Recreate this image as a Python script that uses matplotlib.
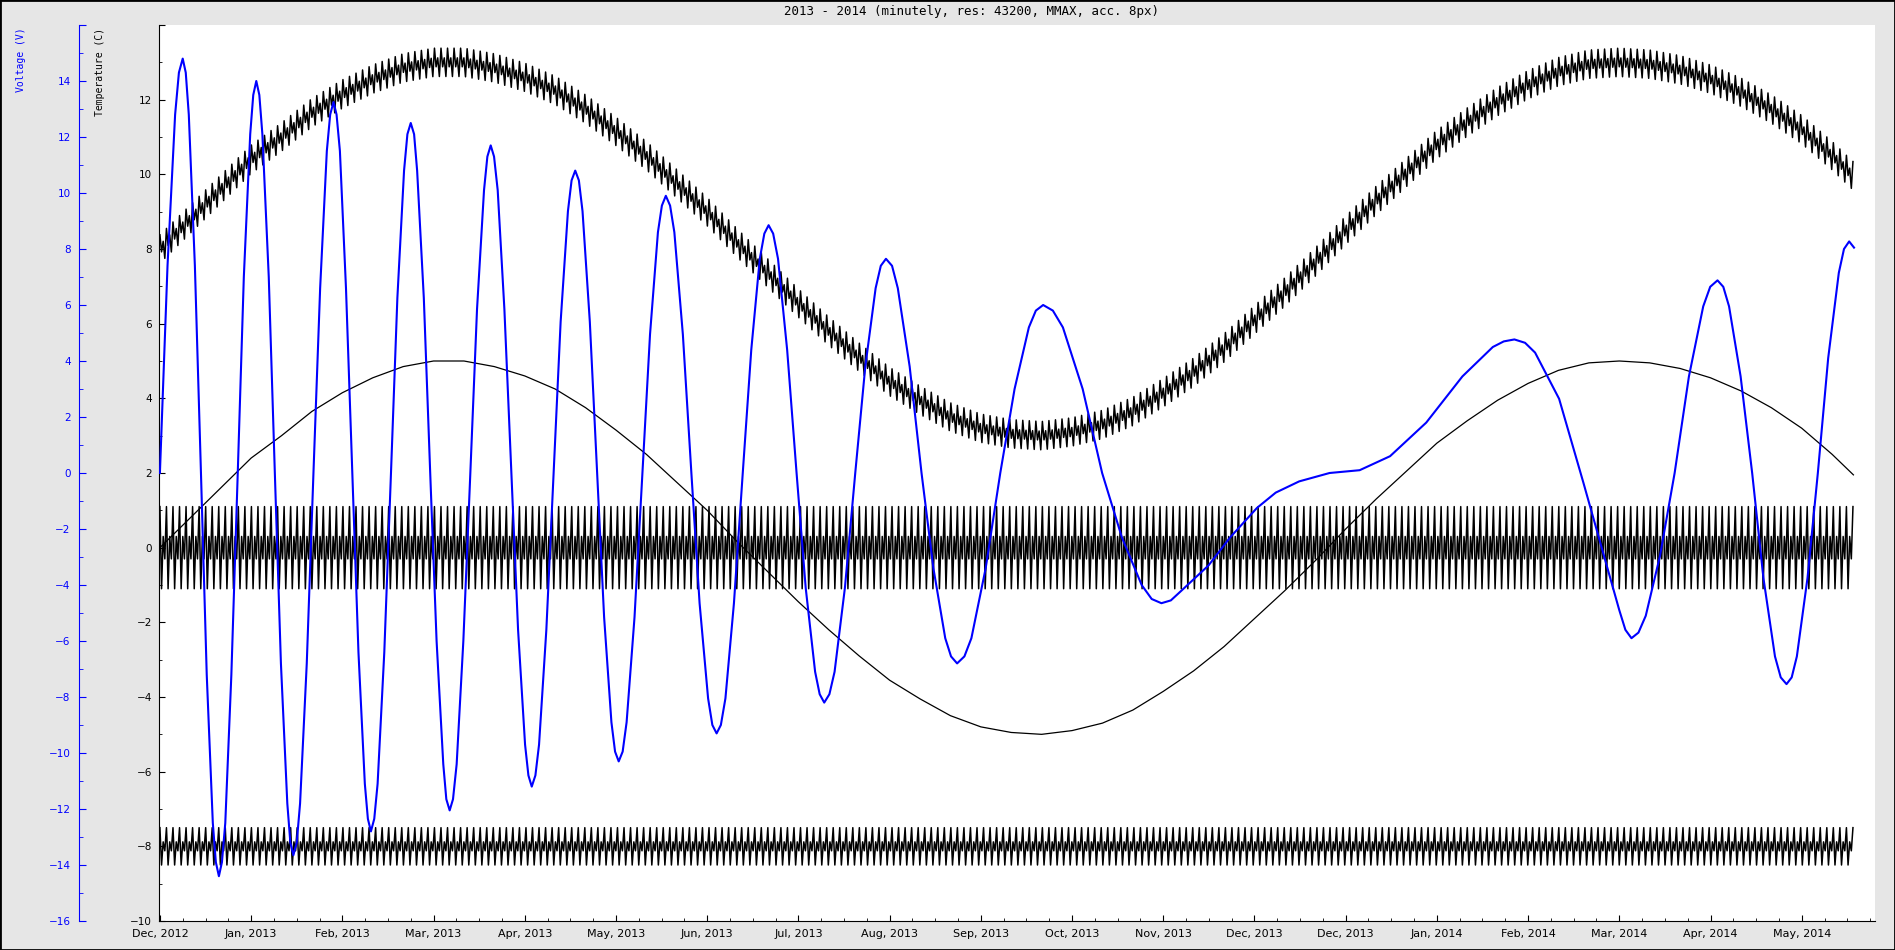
import numpy as np
import matplotlib
matplotlib.use("Agg")
import matplotlib.pyplot as plt
from matplotlib.patches import Rectangle
from matplotlib.ticker import MultipleLocator, FixedLocator, FuncFormatter

# x positions are days from the first label (Dec, 2012); labels every 30 days
tick_labels = ["Dec, 2012", "Jan, 2013", "Feb, 2013", "Mar, 2013", "Apr, 2013",
               "May, 2013", "Jun, 2013", "Jul, 2013", "Aug, 2013", "Sep, 2013",
               "Oct, 2013", "Nov, 2013", "Dec, 2013", "Dec, 2013", "Jan, 2014",
               "Feb, 2014", "Mar, 2014", "Apr, 2014", "May, 2014"]

# slow temperature wave (C), read every 10 days
wave_days = [0, 10, 20, 30, 40, 50, 60, 70, 80, 90, 100, 110, 120, 130, 140, 150,
             160, 170, 180, 190, 200, 210, 220, 230, 240, 250, 260, 270, 280, 290,
             300, 310, 320, 330, 340, 350, 360, 370, 380, 390, 400, 410, 420, 430,
             440, 450, 460, 470, 480, 490, 500, 510, 520, 530, 540, 550, 557]
temp_wave = [0.0, 0.8, 1.6, 2.4, 3.0, 3.65, 4.15, 4.55, 4.85, 5.0, 5.0, 4.85, 4.6,
             4.25, 3.75, 3.15, 2.5, 1.75, 1.0, 0.15, -0.65, -1.45, -2.2, -2.9, -3.55,
             -4.05, -4.5, -4.8, -4.95, -5.0, -4.9, -4.7, -4.35, -3.85, -3.3, -2.65,
             -1.9, -1.15, -0.35, 0.5, 1.3, 2.05, 2.8, 3.4, 3.95, 4.4, 4.75, 4.95, 5.0,
             4.95, 4.8, 4.55, 4.2, 3.75, 3.2, 2.5, 1.95]
# centre of the thick upper band (C), same days
band_top_mid = [8.0, 8.8, 9.6, 10.4, 11.0, 11.65, 12.15, 12.55, 12.85, 13.0, 13.0,
                12.85, 12.6, 12.25, 11.75, 11.15, 10.5, 9.75, 9.0, 8.15, 7.35, 6.55,
                5.8, 5.1, 4.45, 3.95, 3.5, 3.2, 3.05, 3.0, 3.1, 3.3, 3.65, 4.15, 4.7,
                5.35, 6.1, 6.85, 7.65, 8.5, 9.3, 10.05, 10.8, 11.4, 11.95, 12.4, 12.75,
                12.95, 13.0, 12.95, 12.8, 12.55, 12.2, 11.75, 11.2, 10.5, 9.95]
band_zero_mid = 0.0
band_low_mid = -8.0

# fast ripple, one cycle each, cycle length in days
ripple_period = 2.15
ripple_top = [0.38, -0.12, 0.12, -0.38]
ripple_zero = [1.1, -1.1, 0.3, -0.3]
ripple_low = [0.5, -0.5, 0.12, -0.12]

# voltage (V): (day, value) readings
volt_points = [
    (0, 0.0), (2.5, 7.4), (5.0, 12.8), (7.5, 14.8), (9.5, 12.8), (11.5, 7.4),
    (13.5, 0.0), (15.4, -7.2), (17.4, -12.5), (19.4, -14.4), (21.5, -12.5),
    (23.5, -7.2), (25.6, 0.0), (27.6, 7.0), (29.7, 12.1), (31.7, 14.0),
    (33.7, 12.1), (35.8, 7.0), (37.8, 0.0), (39.8, -6.8), (41.9, -11.8),
    (43.9, -13.65), (46.1, -11.8), (48.3, -6.8), (50.5, 0.0), (52.7, 6.6),
    (54.9, 11.5), (57.1, 13.25), (59.2, 11.5), (61.2, 6.6), (63.3, 0.0),
    (65.3, -6.4), (67.4, -11.1), (69.4, -12.8), (71.6, -11.1), (73.8, -6.4),
    (76.0, 0.0), (78.1, 6.25), (80.3, 10.8), (82.5, 12.5), (84.6, 10.8),
    (86.8, 6.25), (88.9, 0.0), (91.0, -6.0), (93.2, -10.4), (95.3, -12.05),
    (97.6, -10.4), (99.8, -6.0), (102.1, 0.0), (104.3, 5.85), (106.6, 10.1),
    (108.8, 11.7), (111.1, 10.1), (113.3, 5.85), (115.6, 0.0), (117.8, -5.6),
    (120.1, -9.7), (122.3, -11.2), (124.7, -9.7), (127.1, -5.6), (129.5, 0.0),
    (131.8, 5.4), (134.2, 9.35), (136.6, 10.8), (139.0, 9.35), (141.4, 5.4),
    (143.8, 0.0), (146.1, -5.15), (148.5, -8.9), (150.9, -10.3), (153.5, -8.9),
    (156.1, -5.15), (158.7, 0.0), (161.2, 4.95), (163.8, 8.6), (166.4, 9.9),
    (169.2, 8.6), (172.0, 4.95), (174.8, 0.0), (177.5, -4.65), (180.3, -8.05),
    (183.1, -9.3), (186.0, -8.05), (188.8, -4.65), (191.7, 0.0), (194.5, 4.4),
    (197.3, 7.65), (200.2, 8.85), (203.3, 7.65), (206.3, 4.4), (209.4, 0.0),
    (212.4, -4.1), (215.5, -7.1), (218.5, -8.2), (221.9, -7.1), (225.3, -4.1),
    (228.7, 0.0), (232.0, 3.8), (235.4, 6.6), (238.8, 7.65), (242.7, 6.6),
    (246.6, 3.8), (250.5, 0.0), (254.4, -3.4), (258.3, -5.9), (262.2, -6.8),
    (266.9, -5.9), (271.6, -3.4), (276.4, 0.0), (281.1, 3.0), (285.8, 5.2),
    (290.5, 6.0), (297.0, 5.2), (303.5, 3.0), (309.9, 0.0), (316.4, -2.3),
    (322.9, -4.0), (329.4, -4.65), (336.0, -4.2), (344.9, -3.3), (352.0, -2.3),
    (360.8, -1.25), (367.0, -0.7), (374.7, -0.3), (384.7, 0.0), (394.6, 0.1),
    (404.6, 0.6), (416.5, 1.8), (428.4, 3.45), (438.4, 4.5), (445.5, 4.77),
    (452.3, 4.3), (460.2, 2.65), (468.2, -0.35), (476.1, -3.4), (480.0, -4.9),
    (484.0, -5.9), (488.7, -5.1), (493.4, -2.95), (498.2, 0.0), (502.9, 3.45),
    (507.6, 5.95), (512.3, 6.88), (516.1, 5.95), (519.9, 3.45), (523.7, 0.0),
    (527.4, -3.75), (531.2, -6.55), (535.0, -7.54), (538.4, -6.55),
    (541.9, -3.75), (545.3, 0.0), (548.7, 4.1), (552.2, 7.15), (555.6, 8.27),
    (557.2, 8.05),
]
# extra readings just either side of each turning point
volt_shoulders = [
    (6.25, 14.3), (8.5, 14.3), (18.4, -13.9), (20.4, -13.9), (30.7, 13.5),
    (32.7, 13.5), (42.9, -13.2), (45.0, -13.2), (56.0, 12.8), (58.1, 12.8),
    (68.4, -12.35), (70.5, -12.35), (81.4, 12.1), (83.6, 12.1), (94.2, -11.65),
    (96.4, -11.65), (107.7, 11.3), (109.9, 11.3), (121.2, -10.8), (123.5, -10.8),
    (135.4, 10.45), (137.8, 10.45), (149.7, -9.95), (152.2, -9.95), (165.1, 9.55),
    (167.8, 9.55), (181.7, -9.0), (184.5, -9.0), (198.8, 8.55), (201.7, 8.55),
    (217.0, -7.9), (220.2, -7.9), (237.1, 7.4), (240.8, 7.4), (260.2, -6.55),
    (264.6, -6.55), (288.1, 5.8), (293.7, 5.8), (326.2, -4.5), (332.5, -4.55),
    (442.0, 4.7), (449.0, 4.65), (482.0, -5.6), (486.3, -5.7), (509.9, 6.65),
    (514.2, 6.65), (533.1, -7.3), (536.7, -7.3), (553.9, 8.0),
]

bg = "#e6e6e6"
fig = plt.figure(figsize=(18.95, 9.5), dpi=100, facecolor=bg)
ax = fig.add_axes([159 / 1895, 1 - 921 / 950, 1716 / 1895, 896 / 950])
ax.set_facecolor("white")

# fast bands
t = np.arange(0, 557, ripple_period / 4)
top_band = np.interp(t, wave_days, band_top_mid) + np.resize(ripple_top, len(t))
zero_band = band_zero_mid + np.resize(ripple_zero, len(t))
low_band = band_low_mid + np.resize(ripple_low, len(t))
for band in (top_band, zero_band, low_band):
    ax.plot(t, band, color="black", lw=1.1)
ax.plot(wave_days, temp_wave, color="black", lw=0.9)

ax.set_xlim(-0.3, 564.1)
ax.set_ylim(-10, 14)
for s in ("top", "right"):
    ax.spines[s].set_visible(False)
ax.xaxis.set_major_locator(FixedLocator([30 * i for i in range(len(tick_labels))]))
ax.set_xticklabels(tick_labels, fontsize=8)
ax.xaxis.set_minor_locator(MultipleLocator(7.5))
ax.yaxis.set_major_locator(MultipleLocator(2))
ax.yaxis.set_minor_locator(MultipleLocator(1))
ax.yaxis.set_major_formatter(FuncFormatter(lambda v, p: "" if v > 13 else f"{v:g}".replace("-", "\u2212")))
ax.tick_params(axis="both", which="major", direction="in", length=4, labelsize=7.5, pad=5)
ax.tick_params(axis="both", which="minor", direction="in", length=2)
ax.tick_params(axis="x", labelsize=8, pad=6)

# voltage axis
vd, vv = zip(*sorted(volt_points + volt_shoulders))
ax2 = ax.twinx()
ax2.plot(vd, vv, color="blue", lw=1.5)
ax2.set_ylim(-16, 16)
for s in ("top", "right", "bottom"):
    ax2.spines[s].set_visible(False)
ax2.spines["left"].set_visible(True)
ax2.spines["left"].set_position(("axes", -80 / 1716))
ax2.spines["left"].set_color("blue")
ax2.yaxis.set_ticks_position("left")
ax2.yaxis.set_major_locator(MultipleLocator(2))
ax2.yaxis.set_minor_locator(MultipleLocator(1))
ax2.yaxis.set_major_formatter(FuncFormatter(lambda v, p: "" if v > 15 else f"{v:g}".replace("-", "\u2212")))
ax2.tick_params(axis="y", which="major", direction="in", length=5, colors="blue", labelsize=7.5, pad=6)
ax2.tick_params(axis="y", which="minor", direction="in", length=3, colors="blue")

# titles and axis names
fig.text(971 / 1895, 1 - 12 / 950, "2013 - 2014 (minutely, res: 43200, MMAX, acc. 8px)",
         ha="center", va="center", family="DejaVu Sans Mono", fontsize=9)
fig.text(21 / 1895, 1 - 27 / 950, "Voltage (V)", rotation=90, ha="center", va="top",
         color="blue", family="DejaVu Sans Mono", fontsize=7)
fig.text(100 / 1895, 1 - 28 / 950, "Temperature (C)", rotation=90, ha="center", va="top",
         color="black", family="DejaVu Sans Mono", fontsize=7)

fig.patches.append(Rectangle((0, 0), 1, 1, transform=fig.transFigure, fill=False,
                             edgecolor="black", lw=2))
fig.savefig("out.png", dpi=100, facecolor=bg)
